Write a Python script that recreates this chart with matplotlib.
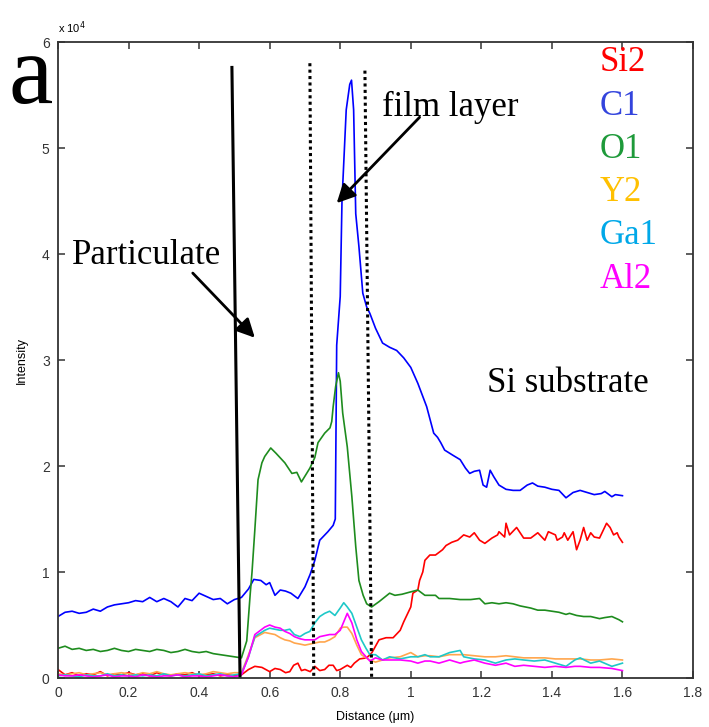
import matplotlib.pyplot as plt
from matplotlib.ticker import FuncFormatter, MultipleLocator

# line-scan intensities, in units of 1e4 counts
left_x = [0.00, 0.02, 0.04, 0.06, 0.08, 0.10, 0.12, 0.14, 0.16, 0.18, 0.20, 0.22, 0.24, 0.26,
          0.28, 0.30, 0.32, 0.34, 0.36, 0.38, 0.40, 0.42, 0.44, 0.46, 0.48, 0.50, 0.52]

si2_x = left_x + [0.54, 0.558, 0.578, 0.60, 0.615, 0.63, 0.645, 0.657, 0.668, 0.68, 0.69, 0.70,
                  0.715, 0.728, 0.742, 0.756, 0.768, 0.78, 0.79, 0.80, 0.81, 0.82, 0.83, 0.84,
                  0.855, 0.875, 0.89, 0.91, 0.93, 0.95, 0.97, 0.98, 1.0, 1.006, 1.02, 1.025,
                  1.034, 1.04, 1.054, 1.07, 1.09, 1.10, 1.116, 1.133, 1.15, 1.167, 1.18, 1.195,
                  1.21, 1.23, 1.246, 1.25, 1.266, 1.27, 1.28, 1.30, 1.31, 1.32, 1.34, 1.36, 1.38,
                  1.39, 1.41, 1.415, 1.43, 1.435, 1.445, 1.46, 1.47, 1.48, 1.49, 1.50, 1.51,
                  1.52, 1.535, 1.555, 1.565, 1.575, 1.585, 1.59, 1.60]
si2_y = [0.08, 0.03, 0.05, 0.02, 0.04, 0.03, 0.06, 0.02, 0.04, 0.03, 0.05, 0.03, 0.04, 0.02,
         0.05, 0.03, 0.02, 0.04, 0.03, 0.05, 0.02, 0.03, 0.04, 0.02, 0.03, 0.02, 0.03,
         0.08, 0.11, 0.10, 0.06, 0.09, 0.08, 0.05, 0.06, 0.12, 0.14, 0.07, 0.08,
         0.06, 0.11, 0.07, 0.08, 0.12, 0.12, 0.07, 0.08, 0.10, 0.12, 0.10, 0.14,
         0.18, 0.19, 0.24, 0.36, 0.38, 0.38, 0.45, 0.53, 0.67, 0.80, 0.83, 0.92,
         1.00, 1.11, 1.16, 1.16, 1.21, 1.25, 1.28, 1.30, 1.35, 1.33, 1.37, 1.30,
         1.27, 1.32, 1.35, 1.38, 1.33, 1.46, 1.35, 1.42, 1.37, 1.32, 1.32, 1.37, 1.30,
         1.38, 1.35, 1.30, 1.33, 1.37, 1.30, 1.38, 1.21, 1.30, 1.42, 1.30, 1.37,
         1.33, 1.32, 1.46, 1.42, 1.35, 1.37, 1.33, 1.28]

c1_x = left_x + [0.54, 0.555, 0.575, 0.59, 0.60, 0.615, 0.63, 0.645, 0.66, 0.68, 0.70, 0.715,
                 0.728, 0.742, 0.765, 0.78, 0.786, 0.79, 0.80, 0.805, 0.817, 0.827, 0.832,
                 0.838, 0.844, 0.853, 0.864, 0.875, 0.884, 0.90, 0.92, 0.94, 0.96, 0.98, 1.0,
                 1.02, 1.045, 1.065, 1.076, 1.085, 1.096, 1.12, 1.14, 1.155, 1.167, 1.18,
                 1.195, 1.205, 1.215, 1.225, 1.235, 1.25, 1.27, 1.29, 1.31, 1.33, 1.345,
                 1.36, 1.38, 1.40, 1.42, 1.44, 1.46, 1.48, 1.50, 1.52, 1.54, 1.55, 1.57,
                 1.58, 1.60]
c1_y = [0.58, 0.62, 0.63, 0.61, 0.62, 0.65, 0.63, 0.67, 0.69, 0.70, 0.71, 0.73, 0.72, 0.76,
        0.72, 0.75, 0.72, 0.67, 0.75, 0.73, 0.80, 0.77, 0.74, 0.75, 0.70, 0.74, 0.76,
        0.84, 0.93, 0.92, 0.88, 0.90, 0.78, 0.83, 0.82, 0.80, 0.75, 0.86, 0.98,
        1.11, 1.30, 1.38, 1.44, 1.50, 3.14, 3.60, 4.50, 5.36, 5.60, 5.64,
        5.36, 4.38, 4.07, 3.63, 3.50, 3.44, 3.30, 3.16, 3.12, 3.09, 3.02, 2.93,
        2.78, 2.56, 2.31, 2.27, 2.22, 2.15, 2.10, 2.06, 1.98, 1.93, 1.95,
        1.96, 1.82, 1.80, 1.96, 1.90, 1.82, 1.78, 1.77, 1.77, 1.82, 1.84,
        1.81, 1.80, 1.78, 1.77, 1.70, 1.75, 1.77, 1.75, 1.73, 1.74, 1.76, 1.71,
        1.73, 1.72]

o1_x = left_x + [0.535, 0.545, 0.55, 0.558, 0.567, 0.578, 0.586, 0.603, 0.618, 0.643, 0.663,
                 0.677, 0.69, 0.714, 0.728, 0.737, 0.756, 0.771, 0.776, 0.78, 0.787, 0.795,
                 0.80, 0.807, 0.82, 0.833, 0.844, 0.853, 0.865, 0.875, 0.889, 0.91, 0.94,
                 0.955, 0.975, 0.997, 1.02, 1.04, 1.07, 1.08, 1.11, 1.14, 1.17, 1.195, 1.21,
                 1.23, 1.25, 1.27, 1.29, 1.31, 1.34, 1.36, 1.38, 1.40, 1.42, 1.44, 1.45,
                 1.47, 1.49, 1.51, 1.535, 1.55, 1.57, 1.59, 1.60]
o1_y = [0.28, 0.30, 0.27, 0.28, 0.26, 0.27, 0.25, 0.26, 0.28, 0.26, 0.25, 0.27, 0.26, 0.25,
        0.27, 0.26, 0.24, 0.25, 0.27, 0.25, 0.24, 0.25, 0.23, 0.22, 0.21, 0.20, 0.19,
        0.35, 0.80, 1.00, 1.40, 1.87, 2.03, 2.09, 2.17, 2.12, 2.03, 1.93,
        1.94, 1.85, 1.98, 2.08, 2.22, 2.31, 2.36, 2.42, 2.56, 2.75, 2.88,
        2.80, 2.50, 2.18, 1.71, 1.24, 0.92, 0.78, 0.70, 0.67, 0.72, 0.80,
        0.78, 0.79, 0.81, 0.83, 0.78, 0.78, 0.75, 0.75, 0.74, 0.74, 0.75, 0.70,
        0.71, 0.70, 0.71, 0.70, 0.68, 0.66, 0.64, 0.64, 0.63, 0.62, 0.60, 0.61,
        0.59, 0.58, 0.58, 0.56, 0.57, 0.58, 0.55, 0.53]

mid_x = [0.54, 0.558, 0.586, 0.60, 0.615, 0.63, 0.643, 0.657, 0.67, 0.686, 0.70, 0.714, 0.728,
         0.742, 0.756, 0.77, 0.785, 0.80, 0.81, 0.82, 0.833, 0.847, 0.86, 0.873, 0.884,
         0.90, 0.92, 0.94, 0.97, 1.0, 1.02, 1.04, 1.055, 1.08, 1.11, 1.14, 1.15, 1.18,
         1.21, 1.24, 1.27, 1.295, 1.32, 1.35, 1.38, 1.41, 1.44, 1.465, 1.48, 1.51,
         1.535, 1.57, 1.60]

y2_y = [0.04, 0.03, 0.04, 0.05, 0.03, 0.04, 0.05, 0.03, 0.04, 0.05, 0.04, 0.03, 0.05, 0.04,
        0.06, 0.04, 0.03, 0.04, 0.05, 0.04, 0.03, 0.04, 0.06, 0.05, 0.04, 0.05, 0.05,
        0.22, 0.38, 0.43, 0.42, 0.41, 0.38, 0.36, 0.35, 0.33, 0.32, 0.31, 0.32, 0.33,
        0.34, 0.34, 0.36, 0.39, 0.47, 0.48, 0.48, 0.42, 0.31, 0.22, 0.19, 0.17,
        0.15, 0.17, 0.19, 0.20, 0.24, 0.20, 0.21, 0.21, 0.20, 0.22, 0.22, 0.22, 0.21,
        0.20, 0.20, 0.21, 0.20, 0.19, 0.19, 0.19, 0.18, 0.18, 0.18, 0.18, 0.17,
        0.17, 0.18, 0.17]

ga1_y = [0.02, 0.03, 0.02, 0.01, 0.03, 0.02, 0.02, 0.04, 0.02, 0.03, 0.02, 0.03, 0.02, 0.03,
         0.02, 0.04, 0.02, 0.03, 0.02, 0.03, 0.04, 0.02, 0.03, 0.04, 0.02, 0.03, 0.04,
         0.20, 0.39, 0.45, 0.47, 0.46, 0.45, 0.45, 0.46, 0.41, 0.39, 0.42, 0.44, 0.52,
         0.58, 0.61, 0.63, 0.59, 0.66, 0.71, 0.67, 0.61, 0.48, 0.36, 0.28, 0.22,
         0.22, 0.17, 0.20, 0.18, 0.20, 0.20, 0.22, 0.20, 0.20, 0.24, 0.26, 0.20, 0.18,
         0.17, 0.14, 0.17, 0.18, 0.17, 0.16, 0.17, 0.14, 0.11, 0.17, 0.19, 0.14,
         0.16, 0.11, 0.14]

al2_y = [0.03, 0.02, 0.02, 0.03, 0.02, 0.01, 0.02, 0.03, 0.01, 0.02, 0.02, 0.01, 0.03, 0.02,
         0.01, 0.02, 0.02, 0.03, 0.01, 0.02, 0.02, 0.01, 0.02, 0.03, 0.02, 0.01, 0.03,
         0.20, 0.41, 0.48, 0.50, 0.48, 0.47, 0.44, 0.42, 0.39, 0.37, 0.36, 0.36, 0.36,
         0.39, 0.40, 0.41, 0.41, 0.45, 0.53, 0.61, 0.52, 0.36, 0.25, 0.20, 0.16,
         0.19, 0.17, 0.17, 0.17, 0.16, 0.14, 0.16, 0.16, 0.14, 0.17, 0.14, 0.15, 0.17,
         0.14, 0.12, 0.14, 0.11, 0.12, 0.11, 0.10, 0.11, 0.10, 0.11, 0.11, 0.10,
         0.10, 0.09, 0.07]

y2_x = left_x + mid_x
ga1_x = left_x + mid_x
al2_x = left_x + mid_x

elements = ['Si2', 'C1', 'O1', 'Y2', 'Ga1', 'Al2']
line_colors = ['#FF0000', '#0000FF', '#1E8C1E', '#FFA64D', '#1EC8C8', '#FF00FF']
label_colors = ['#FF0000', '#3344DD', '#1E9A3A', '#FFC000', '#00A8E8', '#FF00FF']
series = [(si2_x, si2_y), (c1_x, c1_y), (o1_x, o1_y), (y2_x, y2_y), (ga1_x, ga1_y), (al2_x, al2_y)]

# boundary markers: particulate edge (solid), film layer limits (dotted)
edge_x = [0.493, 0.516]
edge_y = [5.76, 0.0]
film_left_x = [0.714, 0.725]
film_left_y = [5.80, 0.0]
film_right_x = [0.870, 0.889]
film_right_y = [5.73, 0.0]

fig = plt.figure(figsize=(7.09, 7.27), dpi=100)
ax = fig.add_axes([58 / 709, 1 - 678 / 727, 635 / 709, 636 / 727])

for (xs, ys), col in zip(series, line_colors):
    ax.plot(xs, ys, color=col, lw=1.2)

ax.plot(edge_x, edge_y, color='k', lw=2.2)
ax.plot(film_left_x, film_left_y, color='k', lw=2.2, ls=(0, (1, 1.1)))
ax.plot(film_right_x, film_right_y, color='k', lw=2.2, ls=(0, (1, 1.1)))

ax.set_xlim(0, 1.8)
ax.set_ylim(0, 6)
ax.xaxis.set_major_locator(MultipleLocator(0.2))
ax.yaxis.set_major_locator(MultipleLocator(1))
ax.xaxis.set_major_formatter(FuncFormatter(lambda v, p: '%g' % round(v, 2)))
ax.yaxis.set_major_formatter(FuncFormatter(lambda v, p: '%g' % v))
ax.tick_params(direction='in', length=5, width=1.1, top=True, right=True,
               labelsize=10, colors='#333333', pad=6)
for lab in ax.get_xticklabels() + ax.get_yticklabels():
    lab.set_family('Liberation Sans')
for sp in ax.spines.values():
    sp.set_linewidth(1.3)
    sp.set_color('#333333')

ax.set_xlabel('Distance (μm)', fontsize=9, family='Liberation Sans', labelpad=8)
ax.set_ylabel('Intensity', fontsize=9, family='Liberation Sans', labelpad=10)
ax.text(0.0, 1.01, 'x 10$^4$', transform=ax.transAxes, fontsize=8, va='bottom',
        ha='left', family='Liberation Sans')

serif = 'Liberation Serif'
fig.text(9 / 709, 1 - 103 / 727, 'a', fontsize=72, family=serif, va='baseline')

# element labels stacked along the right side
label_base = [71, 115, 158, 201, 244, 288]
for name, col, yb in zip(elements, label_colors, label_base):
    fig.text(600 / 709, 1 - yb / 727, name, fontsize=25, family=serif, color=col, va='baseline')

arrow = dict(arrowstyle='-|>', lw=2, color='k', mutation_scale=28, shrinkA=0, shrinkB=0)
ax.annotate('', xy=(0.558, 3.21), xytext=(0.382, 3.82), arrowprops=arrow)
ax.annotate('', xy=(0.790, 4.48), xytext=(1.025, 5.29), arrowprops=arrow)
ax.text(0.040, 3.91, 'Particulate', fontsize=25, family=serif, va='baseline')
ax.text(0.918, 5.30, 'film layer', fontsize=25, family=serif, va='baseline')
ax.text(1.215, 2.70, 'Si substrate', fontsize=25, family=serif, va='baseline')

fig.savefig('out.png', dpi=100)
